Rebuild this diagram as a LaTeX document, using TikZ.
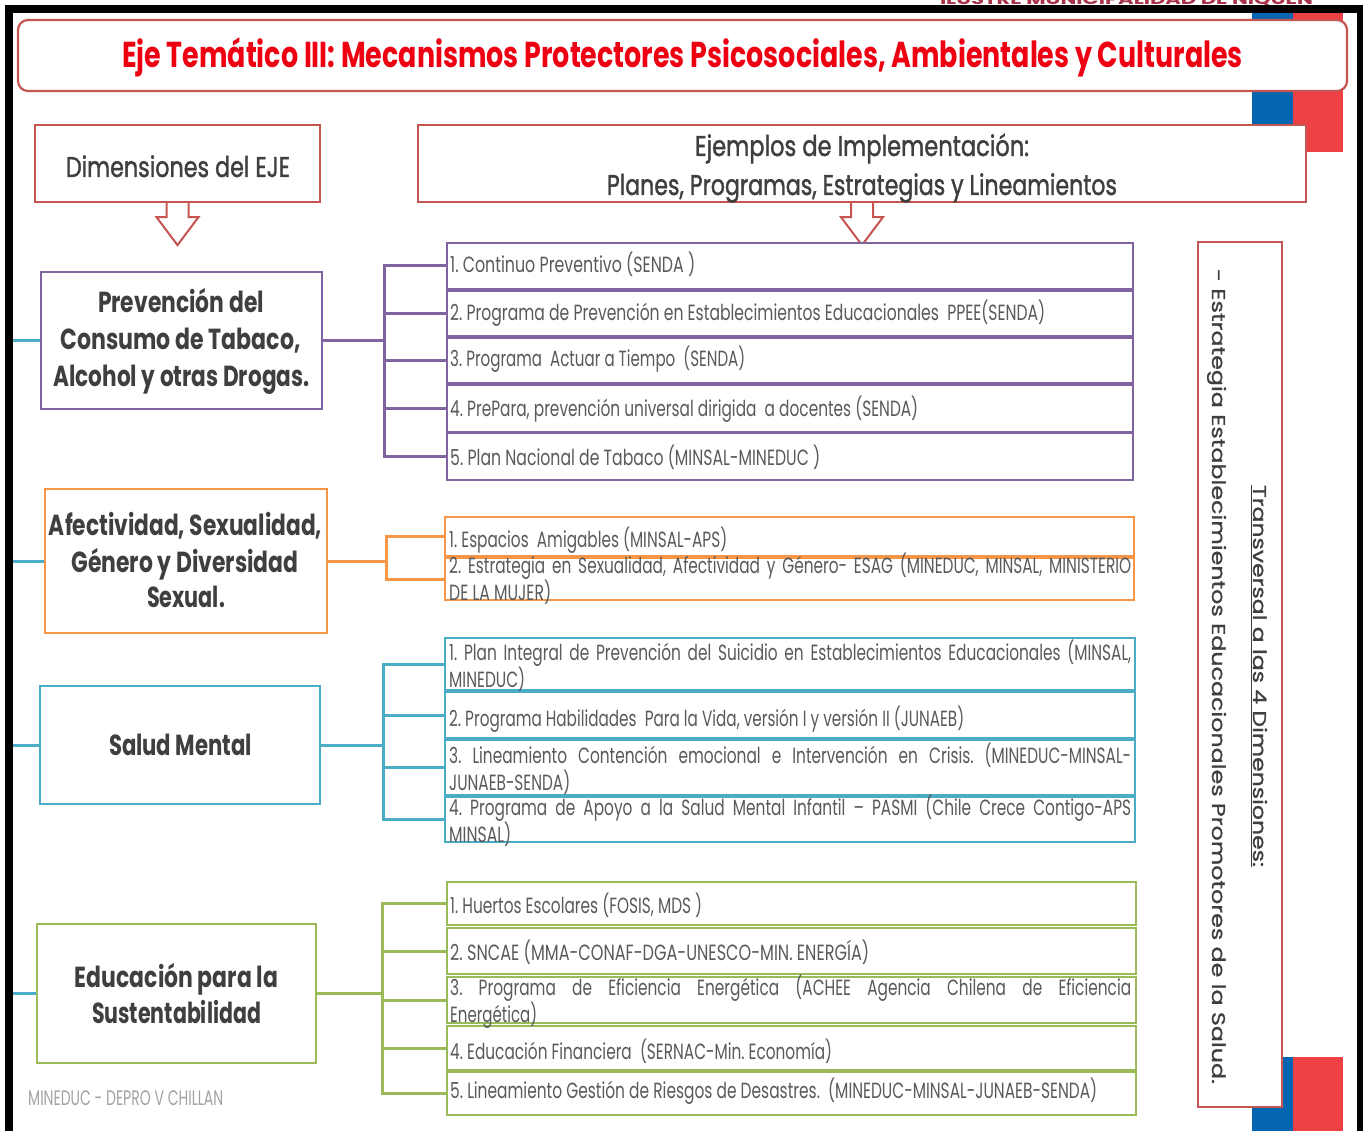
\documentclass[tikz,border=0pt]{standalone}
\usepackage{fontspec}
\setmainfont{Poppins}
\newfontfamily\medfont[FakeBold=1.6]{Poppins}
\newfontfamily\rotfont[FakeBold=1.0]{Poppins}
\usepackage{graphicx}
\frenchspacing
\definecolor{bred}{HTML}{C65450}
\definecolor{tred}{RGB}{238,0,18}
\definecolor{cpur}{HTML}{8064A2}
\definecolor{corg}{HTML}{F79646}
\definecolor{cblu}{HTML}{4BACC6}
\definecolor{cgrn}{HTML}{9BBB59}
\definecolor{dtxt}{HTML}{3F3F3F}
\definecolor{itxt}{HTML}{5A5A5A}
\definecolor{decb}{HTML}{0565B0}
\definecolor{decr}{HTML}{EE4146}
\definecolor{ftxt}{HTML}{A3A3A3}
\definecolor{hdr}{HTML}{A8324A}
\newcommand\fitx[2]{\resizebox{#1pt}{\height}{#2}}
\newcommand\itemfont{\fontsize{22}{22}\selectfont\frenchspacing}
\newlength\reflen
\newlength\jlen
\newcommand\jline[2]{%
  \settowidth\jlen{#2}%
  \pgfmathsetmacro\jnat{\jlen*\sq}%
  \pgfmathparse{\jnat>#1 ? 1 : 0}%
  \ifnum\pgfmathresult=1 \resizebox{#1pt}{\height}{#2}%
  \else\pgfmathsetmacro\jinner{#1/\sq}\scalebox{\sq}[1]{\makebox[\jinner pt][s]{#2}}\fi}
\begin{document}
\settowidth\reflen{\itemfont 2. Programa Habilidades Para la Vida, versión I y versión II (JUNAEB)}%
\pgfmathsetmacro\sq{515/\reflen}%
\begin{tikzpicture}[x=1pt,y=-1pt,
  dimbox/.style={draw=#1, line width=2.6pt, fill=white, inner sep=0pt},
  itembox/.style={draw=#1, line width=2.4pt, fill=white, inner sep=0pt},
  conn/.style={draw=#1, line width=3pt},
  hdrbox/.style={draw=bred, line width=2.2pt, fill=white, inner sep=0pt},
  hdrtext/.style={text=dtxt, font=\medfont\fontsize{28.5}{28.5}\selectfont, inner sep=0pt, anchor=base},
  dimtext/.style={text=dtxt, font=\fontsize{29}{29}\selectfont\bfseries, inner sep=0pt, anchor=base},
  itemtext/.style={text=itxt, font=\itemfont, inner sep=0pt, anchor=base west},
  rottext/.style={text=dtxt, font=\rotfont\fontsize{18.5}{18.5}\selectfont, inner sep=0pt, anchor=base, rotate=-90},
  blockarrow/.style={draw=bred, line width=2pt, fill=white, line join=miter},
]
\useasboundingbox (0,0) rectangle (1363,1131);
\fill[white] (0,0) rectangle (1363,1131);

% header fragment and frame
\node[anchor=base, text=hdr, font=\fontsize{14}{14}\selectfont\bfseries, inner sep=0pt] (muni) at (1126.5,5) {\fitx{373}{ILUSTRE MUNICIPALIDAD DE ÑIQUÉN}};
\fill[decb] (1252,13) rectangle (1293,152);
\fill[decr] (1293,13) rectangle (1343,152);
\fill[decb] (1252,1057) rectangle (1293,1131);
\fill[decr] (1293,1057) rectangle (1343,1131);
\fill[black] (5,5) rectangle (1363,13);
\fill[black] (5,5) rectangle (13,1131);
\fill[black] (1357,5) rectangle (1363,1131);

% title
\node[hdrbox, rounded corners=10pt, minimum width=1329pt, minimum height=71pt] (title) at (682.5,55.5) {};
\node[text=tred, font=\fontsize{36}{36}\selectfont\bfseries, inner sep=0pt, anchor=base] (titlet) at (682.5,68) {\fitx{1121}{Eje Temático III: Mecanismos Protectores Psicosociales, Ambientales y Culturales}};

% column headers
\node[hdrbox, minimum width=285pt, minimum height=77pt] (dimh) at (177.5,163.5) {};
\node[hdrtext] (dimht) at (178,177) {\fitx{224}{Dimensiones del EJE}};
\node[hdrbox, minimum width=888pt, minimum height=77pt] (ejh) at (862,163.5) {};
\node[hdrtext] (ejt1) at (862,156) {\fitx{334}{Ejemplos de Implementación:}};
\node[hdrtext] (ejt2) at (862,195) {\fitx{510}{Planes, Programas, Estrategias y Lineamientos}};
\draw[blockarrow] ([xshift=-11pt]dimh.south) -- ++(0,14) -- ++(-10,0) -- ++(21,28) -- ++(21,-28) -- ++(-10,0) -- ++(0,-14);
\draw[blockarrow] ([xshift=-11pt]ejh.south) -- ++(0,14) -- ++(-10,0) -- ++(21,28) -- ++(21,-28) -- ++(-10,0) -- ++(0,-14);

% transversal box
\node[hdrbox, minimum width=84pt, minimum height=865pt] (vbox) at (1240,674.5) {};
\node[rottext] (vt1) at (1253,676) {\fitx{382}{\underline{Transversal a las 4 Dimensiones:}}};
\node[rottext] (vt2) at (1212,676.5) {\fitx{815}{- Estrategia Establecimientos Educacionales Promotores de la Salud.}};

% dimension boxes
\node[dimbox=cpur, minimum width=281pt, minimum height=137pt] (dprev) at (181.5,340.5) {};
\node[dimtext] (dprev1) at (181,313) {\fitx{166}{Prevención del}};
\node[dimtext] (dprev2) at (180.5,350) {\fitx{240}{Consumo de Tabaco,}};
\node[dimtext] (dprev3) at (181.5,387) {\fitx{256}{Alcohol y otras Drogas.}};

\node[dimbox=corg, minimum width=282pt, minimum height=144pt] (dafec) at (186,561) {};
\node[dimtext] (dafec1) at (185.5,535) {\fitx{273}{Afectividad, Sexualidad,}};
\node[dimtext] (dafec2) at (185,572) {\fitx{227}{Género y Diversidad}};
\node[dimtext] (dafec3) at (186,607) {\fitx{78}{Sexual.}};

\node[dimbox=cblu, minimum width=280pt, minimum height=118pt] (dsalud) at (180,745) {};
\node[dimtext] (dsalud1) at (180.5,755) {\fitx{143}{Salud Mental}};

\node[dimbox=cgrn, minimum width=279pt, minimum height=139pt] (dedu) at (176.5,993.5) {};
\node[dimtext] (dedu1) at (176.5,987) {\fitx{203}{Educación para la}};
\node[dimtext] (dedu2) at (176.5,1023) {\fitx{169}{Sustentabilidad}};

% left stubs
\coordinate (s1) at (13,340.5);
\coordinate (s2) at (13,561);
\coordinate (s3) at (13,745);
\coordinate (s4) at (13,993.5);
\draw[conn=cblu] (s1) -- (dprev.west);
\draw[conn=cblu] (s2) -- (dafec.west);
\draw[conn=cblu] (s3) -- (dsalud.west);
\draw[conn=cblu] (s4) -- (dedu.west);

% item boxes
\node[itembox=cpur, minimum width=686pt, minimum height=46pt] (p1) at (790,266) {};
\node[itembox=cpur, minimum width=686pt, minimum height=45pt] (p2) at (790,313.5) {};
\node[itembox=cpur, minimum width=686pt, minimum height=45pt] (p3) at (790,360.5) {};
\node[itembox=cpur, minimum width=686pt, minimum height=47pt] (p4) at (790,408.5) {};
\node[itembox=cpur, minimum width=686pt, minimum height=47pt] (p5) at (790,456.5) {};

\node[itembox=corg, minimum width=689pt, minimum height=39pt] (o1) at (789.5,536.5) {};
\node[itembox=corg, minimum width=689pt, minimum height=42pt] (o2) at (789.5,579) {};

\node[itembox=cblu, minimum width=690pt, minimum height=52pt] (b1) at (790,664) {};
\node[itembox=cblu, minimum width=690pt, minimum height=46pt] (b2) at (790,715) {};
\node[itembox=cblu, minimum width=690pt, minimum height=55pt] (b3) at (790,767.5) {};
\node[itembox=cblu, minimum width=690pt, minimum height=45pt] (b4) at (790,819.5) {};

\node[itembox=cgrn, minimum width=689pt, minimum height=43pt] (g1) at (791.5,903.5) {};
\node[itembox=cgrn, minimum width=689pt, minimum height=46pt] (g2) at (791.5,951) {};
\node[itembox=cgrn, minimum width=689pt, minimum height=46pt] (g3) at (791.5,1000) {};
\node[itembox=cgrn, minimum width=689pt, minimum height=44pt] (g4) at (791.5,1048) {};
\node[itembox=cgrn, minimum width=689pt, minimum height=43pt] (g5) at (791.5,1093.5) {};

% connectors
\coordinate (pbus) at (384,340.5);
\coordinate (obus) at (386,561);
\coordinate (bbus) at (383,745);
\coordinate (gbus) at (382,993.5);
\draw[conn=cpur] (dprev.east) -- (pbus);
\foreach \n in {p1,p2,p3,p4,p5} \draw[conn=cpur] (pbus) |- (\n.west);
\draw[conn=corg] (dafec.east) -- (obus);
\foreach \n in {o1,o2} \draw[conn=corg] (obus) |- (\n.west);
\draw[conn=cblu] (dsalud.east) -- (bbus);
\foreach \n in {b1,b2,b3,b4} \draw[conn=cblu] (bbus) |- (\n.west);
\draw[conn=cgrn] (dedu.east) -- (gbus);
\foreach \n in {g1,g2,g3,g4,g5} \draw[conn=cgrn] (gbus) |- (\n.west);

% item texts
\node[itemtext] (p1t) at (450,273) {\fitx{245}{1. Continuo Preventivo (SENDA )}};
\node[itemtext] (p2t) at (450,321) {\fitx{595}{2. Programa de Prevención en Establecimientos Educacionales\ \ PPEE(SENDA)}};
\node[itemtext] (p3t) at (450,367) {\fitx{295}{3. Programa\ \ Actuar a Tiempo\ \ (SENDA)}};
\node[itemtext] (p4t) at (450,417) {\fitx{468}{4. PrePara, prevención universal dirigida\ \ a docentes (SENDA)}};
\node[itemtext] (p5t) at (450,465) {\fitx{370}{5. Plan Nacional de Tabaco (MINSAL-MINEDUC )}};

\node[itemtext] (o1t) at (449,547) {\fitx{278}{1. Espacios\ \ Amigables (MINSAL-APS)}};
\node[itemtext] (o2t) at (449,573) {\jline{682}{2. Estrategia en Sexualidad, Afectividad y Género- ESAG (MINEDUC, MINSAL, MINISTERIO}};
\node[itemtext] (o2u) at (449,600) {\fitx{102}{DE LA MUJER)}};

\node[itemtext] (b1t) at (449,660) {\jline{682}{1. Plan Integral de Prevención del Suicidio en Establecimientos Educacionales (MINSAL,}};
\node[itemtext] (b1u) at (449,687) {\fitx{76}{MINEDUC)}};
\node[itemtext] (b2t) at (449,726) {\fitx{515}{2. Programa Habilidades\ \ Para la Vida, versión I y versión II (JUNAEB)}};
\node[itemtext] (b3t) at (449,763) {\jline{682}{3. Lineamiento Contención emocional e Intervención en Crisis. (MINEDUC-MINSAL-}};
\node[itemtext] (b3u) at (449,790) {\fitx{121}{JUNAEB-SENDA)}};
\node[itemtext] (b4t) at (449,815) {\jline{682}{4. Programa de Apoyo a la Salud Mental Infantil – PASMI (Chile Crece Contigo-APS}};
\node[itemtext] (b4u) at (449,842) {\fitx{62}{MINSAL)}};

\node[itemtext] (g1t) at (450,913) {\fitx{252}{1. Huertos Escolares (FOSIS, MDS )}};
\node[itemtext] (g2t) at (450,960) {\fitx{419}{2. SNCAE (MMA-CONAF-DGA-UNESCO-MIN. ENERGÍA)}};
\node[itemtext] (g3t) at (450,995) {\jline{681}{3. Programa de Eficiencia Energética (ACHEE Agencia Chilena de Eficiencia}};
\node[itemtext] (g3u) at (450,1022) {\fitx{87}{Energética)}};
\node[itemtext] (g4t) at (450,1059) {\fitx{382}{4. Educación Financiera\ \ (SERNAC-Min. Economía)}};
\node[itemtext] (g5t) at (450,1098) {\fitx{647}{5. Lineamiento Gestión de Riesgos de Desastres.\ \ (MINEDUC-MINSAL-JUNAEB-SENDA)}};

% footer
\node[anchor=base west, text=ftxt, font=\fontsize{21}{21}\selectfont, inner sep=0pt] (foot) at (28,1105) {\fitx{195}{MINEDUC - DEPRO V CHILLAN}};
\end{tikzpicture}
\end{document}
